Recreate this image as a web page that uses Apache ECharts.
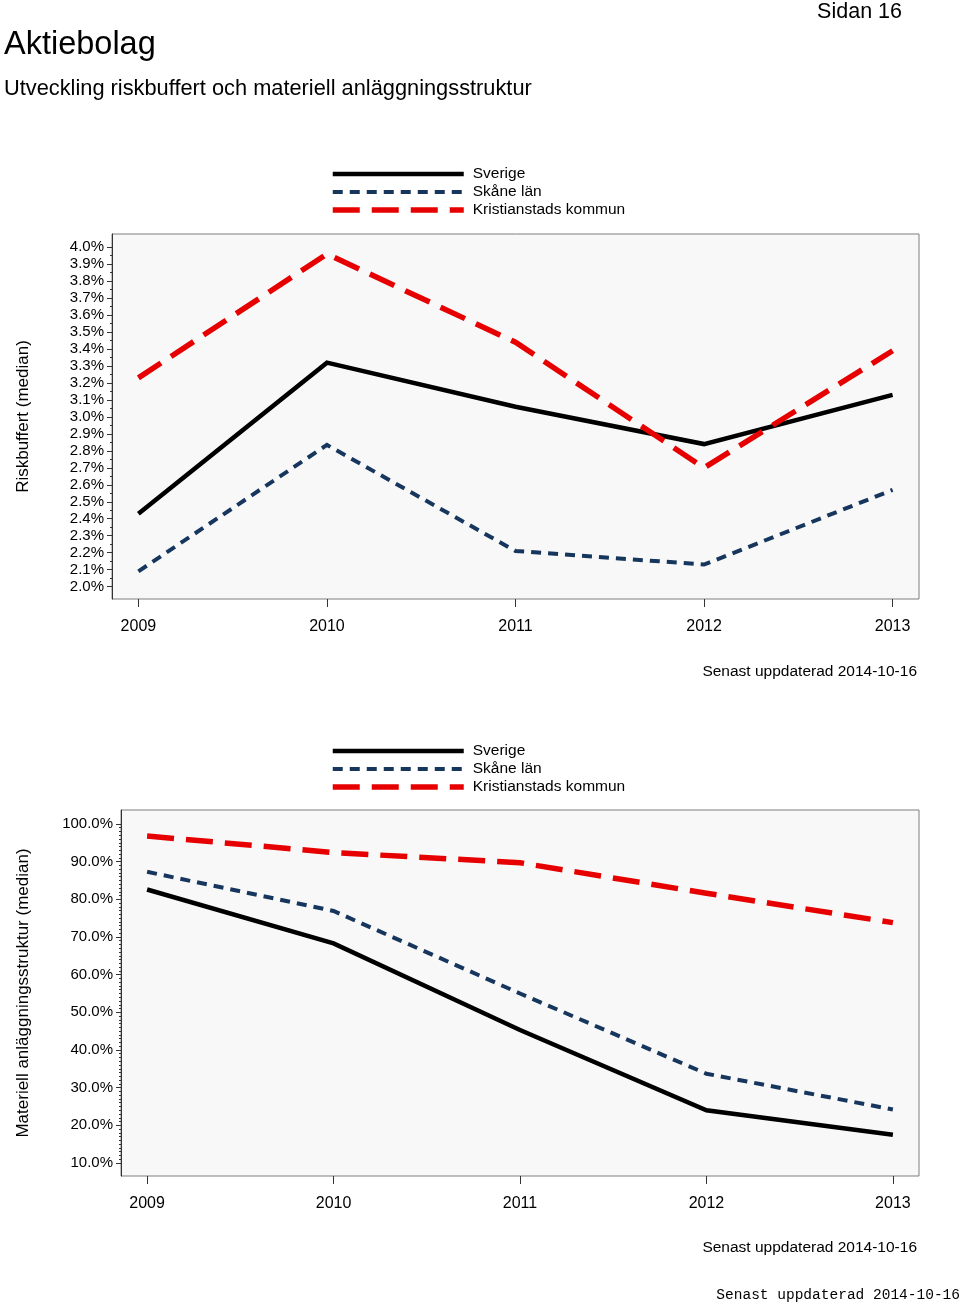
<!DOCTYPE html>
<html>
<head>
<meta charset="utf-8">
<script src="https://cdn.jsdelivr.net/npm/echarts@6/dist/echarts.min.js"></script>
<style>
html,body{margin:0;padding:0;background:#fff;}
#chart{width:960px;height:1306px;}
</style>
</head>
<body>
<div id="chart"></div>
<script>
// ---- data ----
const years = [2009, 2010, 2011, 2012, 2013];
const seriesNames = ['Sverige', 'Skåne län', 'Kristianstads kommun'];

// Chart 1: Riskbuffert (median), percent
const risk_sverige = [2.43, 3.32, 3.06, 2.84, 3.13];
const risk_skane = [2.09, 2.835, 2.21, 2.13, 2.57];
const risk_kristianstad = [3.23, 3.96, 3.44, 2.70, 3.39];
const riskTicks = [2.0, 2.1, 2.2, 2.3, 2.4, 2.5, 2.6, 2.7, 2.8, 2.9, 3.0, 3.1, 3.2, 3.3, 3.4, 3.5, 3.6, 3.7, 3.8, 3.9, 4.0];

// Chart 2: Materiell anläggningsstruktur (median), percent
const mat_sverige = [82.6, 68.3, 45.3, 24.0, 17.5];
const mat_skane = [87.3, 76.9, 55.0, 33.7, 24.2];
const mat_kristianstad = [96.8, 92.4, 89.7, 81.6, 73.8];
const matTicks = [10, 20, 30, 40, 50, 60, 70, 80, 90, 100];

const title = 'Aktiebolag';
const subtitle = 'Utveckling riskbuffert och materiell anläggningsstruktur';
const pageLabel = 'Sidan 16';
const updated = 'Senast uppdaterad 2014-10-16';
const yName1 = 'Riskbuffert (median)';
const yName2 = 'Materiell anläggningsstruktur (median)';

// ---- helpers ----
const FONT = '"Liberation Sans", Arial, sans-serif';
function pairs(vals) { return years.map((y, i) => [y, vals[i]]); }
function minorTicks(ticks, n) {
  const out = [];
  for (let i = 0; i < ticks.length - 1; i++) {
    const step = (ticks[i + 1] - ticks[i]) / n;
    for (let k = 1; k < n; k++) out.push(+(ticks[i] + step * k).toFixed(4));
  }
  return out;
}
const styles = [
  { color: '#000000', width: 4.5, type: 'solid' },
  { color: '#17365d', width: 4, type: [10, 7] },
  { color: '#e60000', width: 5.5, type: [27, 12] }
];

const xPad = 0.14;
function xAxis(gridIndex) {
  return {
    type: 'value', gridIndex: gridIndex,
    min: years[0] - xPad, max: years[years.length - 1] + xPad,
    axisLine: { show: false },
    splitLine: { show: false },
    axisTick: { show: true, length: 8, customValues: years, lineStyle: { color: '#333', width: 1 } },
    axisLabel: { customValues: years, margin: 20, color: '#000', fontSize: 16, fontFamily: FONT, formatter: v => String(v) }
  };
}

const yMin1 = 1.927, yMax1 = 4.078;
const yMin2 = 6.55, yMax2 = 103.7;

function yMain(gridIndex, min, max, ticks, name, nameGap) {
  return {
    type: 'value', gridIndex: gridIndex, min: min, max: max, position: 'left',
    name: name, nameLocation: 'middle', nameRotate: 90, nameGap: nameGap,
    nameTextStyle: { color: '#000', fontSize: 17, fontFamily: FONT },
    axisLine: { show: true, lineStyle: { color: '#333', width: 1 } },
    splitLine: { show: false },
    axisTick: { show: true, length: 5, customValues: ticks, lineStyle: { color: '#333' } },
    axisLabel: { customValues: ticks, margin: 8, color: '#000', fontSize: 15, fontFamily: FONT,
      formatter: v => v.toFixed(1) + '%' }
  };
}
function yMinor(gridIndex, min, max, ticks, n) {
  return {
    type: 'value', gridIndex: gridIndex, min: min, max: max, position: 'left', offset: 0,
    axisLine: { show: false }, splitLine: { show: false },
    axisLabel: { show: false },
    axisTick: { show: true, length: 2, customValues: minorTicks(ticks, n), lineStyle: { color: '#333' } }
  };
}

function lineSeries(name, vals, xi, yi, idx) {
  const s = styles[idx];
  return {
    type: 'line', name: name, xAxisIndex: xi, yAxisIndex: yi,
    data: pairs(vals), symbol: 'none', silent: true,
    lineStyle: { color: s.color, width: s.width, type: s.type, cap: 'butt', join: 'miter' },
    itemStyle: { color: s.color },
    z: 3 + idx
  };
}

function legend(top) {
  return {
    orient: 'vertical', left: 330, top: top, padding: 0,
    itemWidth: 131, itemHeight: 14, itemGap: 2,
    data: seriesNames,
    selectedMode: false,
    itemStyle: { opacity: 0 },
    lineStyle: { width: 'inherit', opacity: 1 },
    textStyle: { color: '#000', fontSize: 15.5, lineHeight: 14, fontFamily: FONT, padding: [0, 0, 0, 4] }
  };
}

const chart = echarts.init(document.getElementById('chart'), null, { renderer: 'canvas' });
chart.setOption({
  animation: false,
  backgroundColor: '#ffffff',
  grid: [
    { left: 112, top: 234, width: 807, height: 365, show: true, backgroundColor: '#f8f8f8', borderColor: '#7f7f7f', borderWidth: 1 },
    { left: 121, top: 810, width: 798, height: 366, show: true, backgroundColor: '#f8f8f8', borderColor: '#7f7f7f', borderWidth: 1 }
  ],
  legend: [legend(166), legend(743)],
  xAxis: [xAxis(0), xAxis(1)],
  yAxis: [
    yMain(0, yMin1, yMax1, riskTicks, yName1, 80),
    yMain(1, yMin2, yMax2, matTicks, yName2, 89),
    yMinor(0, yMin1, yMax1, riskTicks, 2),
    yMinor(1, yMin2, yMax2, matTicks, 10)
  ],
  series: [
    lineSeries(seriesNames[0], risk_sverige, 0, 0, 0),
    lineSeries(seriesNames[1], risk_skane, 0, 0, 1),
    lineSeries(seriesNames[2], risk_kristianstad, 0, 0, 2),
    lineSeries(seriesNames[0], mat_sverige, 1, 1, 0),
    lineSeries(seriesNames[1], mat_skane, 1, 1, 1),
    lineSeries(seriesNames[2], mat_kristianstad, 1, 1, 2)
  ],
  graphic: [
    { type: 'text', x: 4, y: 45, style: { text: title, font: '32.5px ' + FONT, fill: '#000', verticalAlign: 'middle' } },
    { type: 'text', x: 4, y: 89, style: { text: subtitle, font: '21.8px ' + FONT, fill: '#000', verticalAlign: 'middle' } },
    { type: 'text', x: 902, y: 12, style: { text: pageLabel, font: '21.5px ' + FONT, fill: '#000', align: 'right', verticalAlign: 'middle' } },
    { type: 'text', x: 917, y: 672, style: { text: updated, font: '15.5px ' + FONT, fill: '#000', align: 'right', verticalAlign: 'middle' } },
    { type: 'text', x: 917, y: 1248, style: { text: updated, font: '15.5px ' + FONT, fill: '#000', align: 'right', verticalAlign: 'middle' } },
    { type: 'text', x: 960, y: 1295, style: { text: updated, font: '14.5px "Liberation Mono", "DejaVu Sans Mono", monospace', fill: '#000', align: 'right', verticalAlign: 'middle' } }
  ]
});
</script>
</body>
</html>
